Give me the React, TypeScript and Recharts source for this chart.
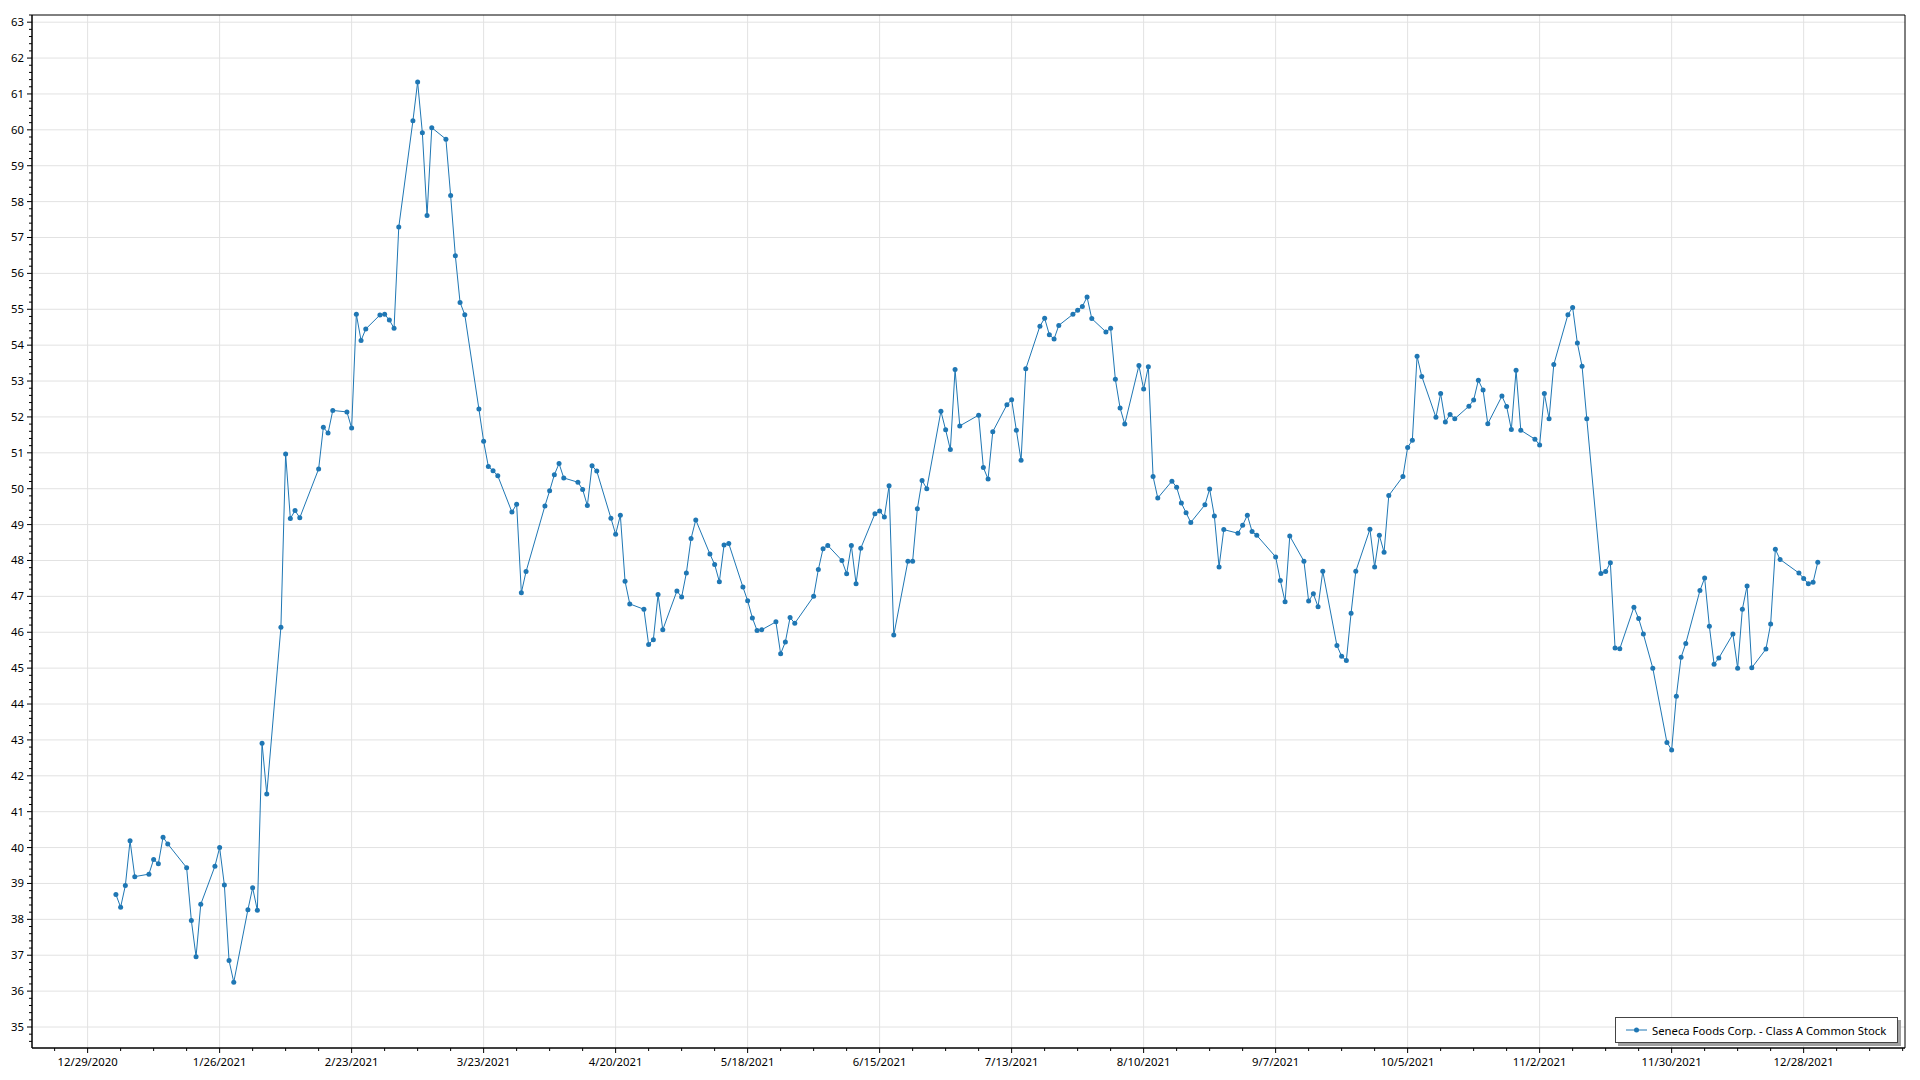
import {
  CartesianGrid,
  Legend,
  Line,
  LineChart,
  ReferenceArea,
  XAxis,
  YAxis,
} from "recharts";

const seriesName = "Seneca Foods Corp. - Class A Common Stock";

const dates = [
  "2021-01-04", "2021-01-05", "2021-01-06", "2021-01-07", "2021-01-08",
  "2021-01-11", "2021-01-12", "2021-01-13", "2021-01-14", "2021-01-15",
  "2021-01-19", "2021-01-20", "2021-01-21", "2021-01-22",
  "2021-01-25", "2021-01-26", "2021-01-27", "2021-01-28", "2021-01-29",
  "2021-02-01", "2021-02-02", "2021-02-03", "2021-02-04", "2021-02-05",
  "2021-02-08", "2021-02-09", "2021-02-10", "2021-02-11", "2021-02-12",
  "2021-02-16", "2021-02-17", "2021-02-18", "2021-02-19",
  "2021-02-22", "2021-02-23", "2021-02-24", "2021-02-25", "2021-02-26",
  "2021-03-01", "2021-03-02", "2021-03-03", "2021-03-04", "2021-03-05",
  "2021-03-08", "2021-03-09", "2021-03-10", "2021-03-11", "2021-03-12",
  "2021-03-15", "2021-03-16", "2021-03-17", "2021-03-18", "2021-03-19",
  "2021-03-22", "2021-03-23", "2021-03-24", "2021-03-25", "2021-03-26",
  "2021-03-29", "2021-03-30", "2021-03-31", "2021-04-01",
  "2021-04-05", "2021-04-06", "2021-04-07", "2021-04-08", "2021-04-09",
  "2021-04-12", "2021-04-13", "2021-04-14", "2021-04-15", "2021-04-16",
  "2021-04-19", "2021-04-20", "2021-04-21", "2021-04-22", "2021-04-23",
  "2021-04-26", "2021-04-27", "2021-04-28", "2021-04-29", "2021-04-30",
  "2021-05-03", "2021-05-04", "2021-05-05", "2021-05-06", "2021-05-07",
  "2021-05-10", "2021-05-11", "2021-05-12", "2021-05-13", "2021-05-14",
  "2021-05-17", "2021-05-18", "2021-05-19", "2021-05-20", "2021-05-21",
  "2021-05-24", "2021-05-25", "2021-05-26", "2021-05-27", "2021-05-28",
  "2021-06-01", "2021-06-02", "2021-06-03", "2021-06-04",
  "2021-06-07", "2021-06-08", "2021-06-09", "2021-06-10", "2021-06-11",
  "2021-06-14", "2021-06-15", "2021-06-16", "2021-06-17", "2021-06-18",
  "2021-06-21", "2021-06-22", "2021-06-23", "2021-06-24", "2021-06-25",
  "2021-06-28", "2021-06-29", "2021-06-30", "2021-07-01", "2021-07-02",
  "2021-07-06", "2021-07-07", "2021-07-08", "2021-07-09",
  "2021-07-12", "2021-07-13", "2021-07-14", "2021-07-15", "2021-07-16",
  "2021-07-19", "2021-07-20", "2021-07-21", "2021-07-22", "2021-07-23",
  "2021-07-26", "2021-07-27", "2021-07-28", "2021-07-29", "2021-07-30",
  "2021-08-02", "2021-08-03", "2021-08-04", "2021-08-05", "2021-08-06",
  "2021-08-09", "2021-08-10", "2021-08-11", "2021-08-12", "2021-08-13",
  "2021-08-16", "2021-08-17", "2021-08-18", "2021-08-19", "2021-08-20",
  "2021-08-23", "2021-08-24", "2021-08-25", "2021-08-26", "2021-08-27",
  "2021-08-30", "2021-08-31", "2021-09-01", "2021-09-02", "2021-09-03",
  "2021-09-07", "2021-09-08", "2021-09-09", "2021-09-10",
  "2021-09-13", "2021-09-14", "2021-09-15", "2021-09-16", "2021-09-17",
  "2021-09-20", "2021-09-21", "2021-09-22", "2021-09-23", "2021-09-24",
  "2021-09-27", "2021-09-28", "2021-09-29", "2021-09-30", "2021-10-01",
  "2021-10-04", "2021-10-05", "2021-10-06", "2021-10-07", "2021-10-08",
  "2021-10-11", "2021-10-12", "2021-10-13", "2021-10-14", "2021-10-15",
  "2021-10-18", "2021-10-19", "2021-10-20", "2021-10-21", "2021-10-22",
  "2021-10-25", "2021-10-26", "2021-10-27", "2021-10-28", "2021-10-29",
  "2021-11-01", "2021-11-02", "2021-11-03", "2021-11-04", "2021-11-05",
  "2021-11-08", "2021-11-09", "2021-11-10", "2021-11-11", "2021-11-12",
  "2021-11-15", "2021-11-16", "2021-11-17", "2021-11-18", "2021-11-19",
  "2021-11-22", "2021-11-23", "2021-11-24", "2021-11-26",
  "2021-11-29", "2021-11-30", "2021-12-01", "2021-12-02", "2021-12-03",
  "2021-12-06", "2021-12-07", "2021-12-08", "2021-12-09", "2021-12-10",
  "2021-12-13", "2021-12-14", "2021-12-15", "2021-12-16", "2021-12-17",
  "2021-12-20", "2021-12-21", "2021-12-22", "2021-12-23",
  "2021-12-27", "2021-12-28", "2021-12-29", "2021-12-30", "2021-12-31",
];

const prices = [
  38.69, 38.34, 38.94, 40.19, 39.19,
  39.26, 39.67, 39.55, 40.29, 40.1,
  39.44, 37.97, 36.96, 38.42,
  39.48, 40.0, 38.96, 36.85, 36.25,
  38.27, 38.88, 38.25, 42.91, 41.49,
  46.14, 50.97, 49.17, 49.39, 49.19,
  50.55, 51.71, 51.55, 52.18,
  52.14, 51.69, 54.86, 54.13, 54.45,
  54.84, 54.86, 54.7, 54.47, 57.29,
  60.25, 61.33, 59.92, 57.61, 60.06,
  59.74, 58.17, 56.49, 55.19, 54.85,
  52.22, 51.32, 50.62, 50.5, 50.36,
  49.35, 49.57, 47.1, 47.69,
  49.52, 49.94, 50.39, 50.7, 50.3,
  50.18, 49.98, 49.53, 50.64, 50.49,
  49.18, 48.73, 49.26, 47.42, 46.79,
  46.64, 45.66, 45.79, 47.05, 46.07,
  47.15, 46.98, 47.65, 48.61, 49.13,
  48.18, 47.89, 47.41, 48.43, 48.47,
  47.26, 46.88, 46.4, 46.05, 46.07,
  46.29, 45.4, 45.73, 46.41, 46.25,
  47.0, 47.75, 48.33, 48.42,
  48.0, 47.63, 48.42, 47.35, 48.34,
  49.3, 49.38, 49.21, 50.08, 45.92,
  47.98, 47.98, 49.44, 50.23, 50.0,
  52.16, 51.64, 51.09, 53.32, 51.75,
  52.05, 50.59, 50.27, 51.59,
  52.34, 52.48, 51.63, 50.79, 53.34,
  54.53, 54.75, 54.29, 54.17, 54.55,
  54.86, 54.97, 55.08, 55.34, 54.74,
  54.37, 54.47, 53.05, 52.25, 51.8,
  53.43, 52.78, 53.4, 50.34, 49.74,
  50.21, 50.04, 49.6, 49.33, 49.06,
  49.55, 49.99, 49.24, 47.82, 48.86,
  48.76, 48.98, 49.26, 48.81, 48.7,
  48.1, 47.44, 46.85, 48.68,
  47.98, 46.87, 47.07, 46.71, 47.7,
  45.63, 45.33, 45.21, 46.53, 47.7,
  48.87, 47.82, 48.7, 48.23, 49.81,
  50.34, 51.15, 51.35, 53.69, 53.13,
  51.99, 52.65, 51.86, 52.07, 51.95,
  52.3, 52.47, 53.02, 52.75, 51.81,
  52.58, 52.29, 51.65, 53.3, 51.63,
  51.38, 51.22, 52.65, 51.95, 53.46,
  54.85, 55.05, 54.06, 53.41, 51.95,
  47.64, 47.69, 47.94, 45.56, 45.54,
  46.7, 46.38, 45.95, 45.0,
  42.93, 42.72, 44.22, 45.3, 45.69,
  47.16, 47.51, 46.17, 45.11, 45.28,
  45.95, 45.0, 46.64, 47.29, 45.01,
  45.53, 46.23, 48.31, 48.03,
  47.65, 47.5, 47.35, 47.39, 47.95,
];

// axis ticks: every 4 weeks from 12/29/2020, minor every week
const tickStart = "2020-12-29";
const majorTickCount = 14;
const yMajorTicks = [
  35, 36, 37, 38, 39, 40, 41, 42, 43, 44, 45, 46, 47, 48, 49,
  50, 51, 52, 53, 54, 55, 56, 57, 58, 59, 60, 61, 62, 63,
];

const DAY = 86400000;
const toDay = (s: string) => {
  const [y, m, d] = s.split("-").map(Number);
  return Date.UTC(y, m - 1, d) / DAY;
};

const data = dates.map((s, i) => ({ t: toDay(s), price: prices[i] }));

const t0 = toDay(tickStart);
const xMajor = Array.from({ length: majorTickCount }, (_, i) => t0 + i * 28);
const xMinor = Array.from({ length: majorTickCount * 4 + 4 }, (_, i) => t0 - 14 + i * 7);
const xDomain: [number, number] = [t0 - 11.8, t0 + 385.5];
const yDomain: [number, number] = [34.415, 63.2];
const yMinor: number[] = [];
for (let v = 344; v <= 632; v += 2) yMinor.push(v / 10);

const FONT = '"Segoe UI", "Noto Sans", sans-serif';
const FS = 11.3;
const BLUE = "#1f77b4";

const fmtDate = (t: number) => {
  const d = new Date(t * DAY);
  return `${d.getUTCMonth() + 1}/${d.getUTCDate()}/${d.getUTCFullYear()}`;
};

const isMajorX = (t: number) => xMajor.includes(t);
const isMajorY = (v: number) => Math.abs(v - Math.round(v)) < 1e-6;

function XTick(props: any) {
  const { x, y, payload } = props;
  const major = isMajorX(payload.value);
  return (
    <g>
      <line x1={x} x2={x} y1={y} y2={y + (major ? 5 : 3)} stroke="#000" />
      {major && (
        <text x={x} y={y + 18} textAnchor="middle" fontSize={FS} fontFamily={FONT} fill="#000">
          {fmtDate(payload.value)}
        </text>
      )}
    </g>
  );
}

function YTick(props: any) {
  const { x, y, payload } = props;
  const major = isMajorY(payload.value);
  return (
    <g>
      <line x1={x - (major ? 5 : 3)} x2={x} y1={y} y2={y} stroke="#000" />
      {major && (
        <text x={x - 8} y={y} dy={4} textAnchor="end" fontSize={FS} fontFamily={FONT} fill="#000">
          {Math.round(payload.value)}
        </text>
      )}
    </g>
  );
}

function LegendBox(props: any) {
  const items = props.payload || [];
  return (
    <div
      style={{
        width: 283,
        height: 26,
        boxSizing: "border-box",
        border: "1px solid #444",
        background: "#fff",
        boxShadow: "3px 3px 0 #a0a0a0",
        display: "flex",
        alignItems: "center",
        fontFamily: FONT,
        fontSize: FS,
        color: "#000",
      }}
    >
      {items.map((it: any) => (
        <div key={it.value} style={{ display: "flex", alignItems: "center" }}>
          <svg width={30} height={10} style={{ marginLeft: 6 }}>
            <line x1={4} x2={25} y1={5} y2={5} stroke={BLUE} strokeWidth={1} />
            <circle cx={14.5} cy={5} r={2.5} fill={BLUE} />
          </svg>
          <span style={{ whiteSpace: "nowrap" }}>{it.value}</span>
        </div>
      ))}
    </div>
  );
}

export default function App() {
  return (
    <div style={{ width: 1920, height: 1080, background: "#fff" }}>
      <style>{`body{margin:0}`}</style>
      <LineChart width={1920} height={1080} data={data} margin={{ top: 15, right: 15, left: 0, bottom: 0 }}>
        <CartesianGrid stroke="#e2e2e2" horizontalValues={yMajorTicks} verticalValues={xMajor} />
        <XAxis
          dataKey="t"
          type="number"
          domain={xDomain}
          ticks={xMinor.filter((t) => t >= xDomain[0] && t <= xDomain[1])}
          tick={<XTick />}
          tickLine={false}
          tickSize={0}
          tickMargin={0}
          height={32}
          interval={0}
          axisLine={{ stroke: "#000" }}
          allowDataOverflow
        />
        <YAxis
          type="number"
          domain={yDomain}
          ticks={yMinor.filter((v) => v >= yDomain[0] && v <= yDomain[1])}
          tick={<YTick />}
          tickLine={false}
          tickSize={0}
          tickMargin={0}
          width={32}
          interval={0}
          axisLine={{ stroke: "#000" }}
          allowDataOverflow
        />
        <ReferenceArea
          x1={xDomain[0]}
          x2={xDomain[1]}
          y1={yDomain[0]}
          y2={yDomain[1]}
          fill="none"
          stroke="#000"
          strokeWidth={1}
        />
        <Legend
          layout="horizontal"
          verticalAlign="middle"
          align="center"
          content={<LegendBox />}
          wrapperStyle={{ position: "absolute", left: 1615, top: 1017, width: 290 }}
        />
        <Line
          name={seriesName}
          dataKey="price"
          type="linear"
          stroke={BLUE}
          strokeWidth={1}
          dot={{ r: 2.5, fill: BLUE, stroke: "none" }}
          activeDot={false}
          isAnimationActive={false}
        />
      </LineChart>
    </div>
  );
}
